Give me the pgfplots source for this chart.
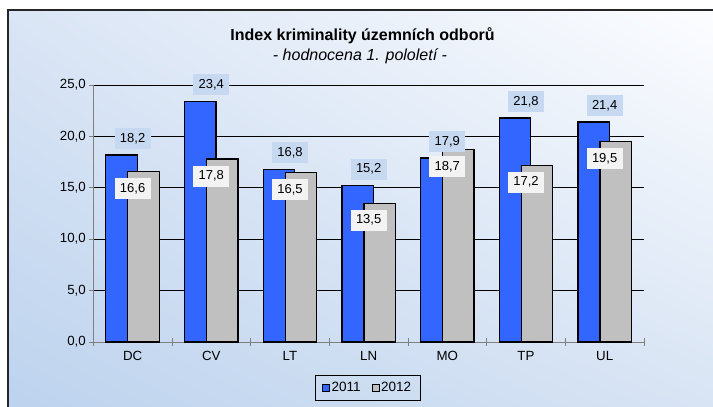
\documentclass[border=0pt]{standalone}
\usepackage{fontspec}
\setmainfont{Liberation Sans}
\usepackage{pgfplots}
\pgfplotsset{compat=1.18}
\usetikzlibrary{shadings}
\definecolor{bgBL}{RGB}{189,211,238}
\definecolor{bgBR}{RGB}{216,228,244}
\definecolor{bgTL}{RGB}{218,229,245}
\definecolor{bgTR}{RGB}{252,253,255}
\definecolor{barblue}{RGB}{51,102,255}
\definecolor{bargray}{RGB}{192,192,192}
\definecolor{lblblue}{RGB}{198,217,241}
\definecolor{lblwhite}{RGB}{243,243,243}
\definecolor{axgray}{RGB}{128,128,128}
\pgfplotsset{/pgf/number format/.cd, fixed, fixed zerofill, precision=1, use comma, assume math mode=true}
\pgfplotsset{sqlegend/.style={legend image code/.code={\draw[##1, line width=0.6pt] (0pt,-3.5pt) rectangle (7pt,3.5pt);}}}
\begin{document}
\begin{tikzpicture}
\useasboundingbox (0pt,0pt) rectangle (713pt,407pt);
\fill[white] (0pt,0pt) rectangle (713pt,407pt);
\shade[lower left=bgBL, lower right=bgBR, upper left=bgTL, upper right=bgTR] (8pt,0pt) rectangle (713pt,397pt);
\draw[black!85, line width=1.2pt] (8pt,0pt) -- (8pt,397pt) -- (713pt,397pt);
\node[font=\fontsize{16}{18}\selectfont\bfseries] at (362.5pt,371pt) {Index kriminality územních odborů};
\node[font=\fontsize{16}{18}\selectfont\itshape] at (360pt,351pt) {- hodnocena 1. pololetí -};
\begin{axis}[at={(93.3pt,65pt)}, anchor=south west, scale only axis,
  width=550.7pt, height=257pt,
  ymin=0, ymax=25, xmin=-0.5, xmax=6.5, enlargelimits=false,
  axis x line=bottom, axis y line=left,
  axis line style={-, draw=axgray, line width=0.8pt},
  ytick={0,5,...,25}, ymajorgrids, major grid style={black, line width=0.8pt},
  xtick={0,...,6}, xticklabels={DC,CV,LT,LN,MO,TP,UL},
  major x tick style={draw=none},
  minor xtick={-0.5,0.5,...,6.5}, minor x tick style={draw=axgray, line width=0.8pt},
  xtick align=center, ytick align=outside,
  major tick length=4pt, minor tick length=8pt,
  major y tick style={draw=axgray, line width=0.8pt},
  ticklabel style={font=\fontsize{13.3}{15}\selectfont},
  xticklabel style={yshift=-4pt},
  legend style={at={(0.498,-0.179)}, anchor=center, legend columns=2,
    draw=black, line width=0.8pt, fill=none, font=\fontsize{13.5}{15}\selectfont,
    inner xsep=7pt, inner ysep=5pt,
    /tikz/every even column/.append style={column sep=9pt}},
  legend cell align=left,
  clip=false,
]
\addplot[ybar, bar width=31.6pt, bar shift=-11pt, fill=barblue, draw=black, line width=1.3pt, sqlegend]
  coordinates {(0,18.2) (1,23.4) (2,16.8) (3,15.2) (4,17.9) (5,21.8) (6,21.4)};
\addlegendentry{2011}
\addplot[ybar, bar width=31.6pt, bar shift=11pt, fill=bargray, draw=black, line width=1.3pt, sqlegend]
  coordinates {(0,16.6) (1,17.8) (2,16.5) (3,13.5) (4,18.7) (5,17.2) (6,19.5)};
\addlegendentry{2012}
\addplot[ybar, bar width=31.6pt, bar shift=-11pt, draw=none, fill=none, forget plot,
  nodes near coords, every node near coord/.append style={fill=lblblue, anchor=center, yshift=16.5pt,
  minimum width=36pt, minimum height=21pt, inner sep=0pt, font=\fontsize{13}{15}\selectfont, text=black}]
  coordinates {(0,18.2) (1,23.4) (2,16.8) (3,15.2) (4,17.9) (5,21.8) (6,21.4)};
\addplot[ybar, bar width=31.6pt, bar shift=11pt, draw=none, fill=none, forget plot,
  nodes near coords, every node near coord/.append style={fill=lblwhite, anchor=center, yshift=-17pt,
  minimum width=36pt, minimum height=21pt, inner sep=0pt, font=\fontsize{13}{15}\selectfont, text=black}]
  coordinates {(0,16.6) (1,17.8) (2,16.5) (3,13.5) (4,18.7) (5,17.2) (6,19.5)};
\end{axis}
\end{tikzpicture}
\end{document}
